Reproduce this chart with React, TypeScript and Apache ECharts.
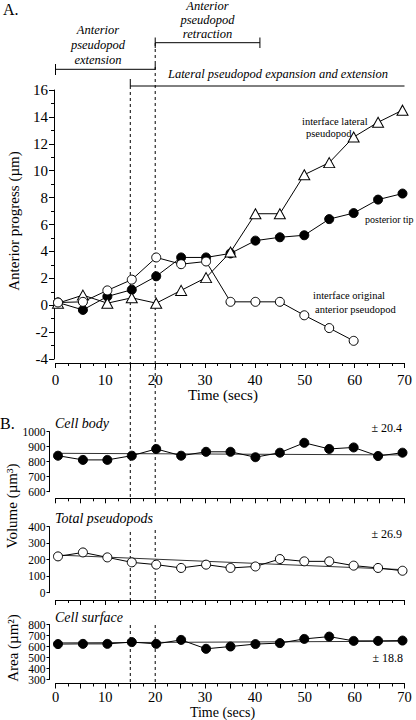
import React, { useEffect, useRef } from 'react';
import * as echarts from 'echarts';

// ---------- data ----------
const TIMES = [0.5, 5.5, 10.4, 15.3, 20.2, 25.2, 30.2, 35.1, 40.1, 45.0, 49.9, 54.9, 59.8, 64.7, 69.6];
const POSTERIOR_TIP = [0.2, -0.35, 0.65, 1.15, 2.15, 3.55, 3.55, 3.85, 4.8, 5.05, 5.2, 6.4, 6.85, 7.85, 8.3];
const LATERAL_INTERFACE = [0.15, 0.75, 0.15, 0.55, 0.15, 1.1, 2.05, 3.95, 6.8, 6.8, 9.7, 10.6, 12.5, 13.6, 14.5];
const ORIGINAL_INTERFACE = [0.2, 0.25, 1.1, 1.9, 3.55, 3.05, 3.25, 0.25, 0.25, 0.25, -0.75, -1.7, -2.65];
const CELL_BODY = [840, 812, 812, 840, 885, 840, 866, 866, 830, 860, 926, 885, 895, 838, 860];
const CELL_BODY_TREND = [856, 845];
const TOTAL_PSEUDOPODS = [220, 244, 214, 184, 170, 150, 170, 150, 159, 204, 190, 190, 164, 150, 133];
const PSEUDOPODS_TREND = [228, 140];
const CELL_SURFACE = [622, 624, 624, 640, 624, 660, 579, 600, 622, 631, 669, 690, 651, 651, 654];
const SURFACE_TREND = [633, 648];
const SURFACE_TICK_LABELS = [300, 400, 500, 600, 700, 800];
const PHASE_MARKS = [15, 20];
const RETRACTION_END = 41;
const X_TICK_LABELS = [0, 10, 20, 30, 40, 50, 60, 70];
const SD_LABELS = ['± 20.4', '± 26.9', '± 18.8'];

const FONT = 'Liberation Serif';

const pairs = (ys: number[]) => ys.map((v, i) => [TIMES[i], v]);
const trend = (tr: number[]) => [[TIMES[0], tr[0]], [TIMES[TIMES.length - 1], tr[1]]];

const GRIDS = [
  { left: 55.5, width: 349, top: 90, height: 269 },
  { left: 55.5, width: 349, top: 431.7, height: 60 },
  { left: 55.5, width: 349, top: 526.7, height: 66 },
  { left: 55.5, width: 349, top: 624.5, height: 55 },
];
const X_OFFSETS = [4, 6.6, 7.3, 4];
const SMALL_Y_OFFSET = 6;

function xAxis(gi: number, showLabels: boolean) {
  return {
    type: 'value',
    gridIndex: gi,
    min: 0,
    max: 70,
    interval: 5,
    offset: X_OFFSETS[gi],
    axisLine: { show: true, onZero: false, lineStyle: { color: '#000', width: 1 } },
    axisTick: { show: true, inside: false, length: 5, lineStyle: { color: '#000', width: 1 } },
    minorTick: { show: true, splitNumber: 2, length: 3, lineStyle: { color: '#000', width: 1 } },
    splitLine: { show: false },
    minorSplitLine: { show: false },
    axisLabel: {
      show: showLabels,
      showMinLabel: true,
      showMaxLabel: true,
      formatter: (v: number) => (X_TICK_LABELS.includes(v) ? String(v) : ''),
      fontSize: gi === 0 ? 15 : 14.5,
      fontFamily: FONT,
      color: '#000',
      margin: gi === 0 ? 9 : 5.5,
    },
  };
}

function yAxis(gi: number, min: number, max: number, interval: number, big: boolean, labels = true) {
  return {
    type: 'value',
    gridIndex: gi,
    min,
    max,
    interval,
    offset: big ? 1.5 : SMALL_Y_OFFSET,
    axisLine: { show: true, onZero: false, lineStyle: { color: '#000', width: 1 } },
    axisTick: { show: true, inside: false, length: big ? 5 : 3, lineStyle: { color: '#000', width: 1 } },
    minorTick: { show: big, splitNumber: 2, length: 3, lineStyle: { color: '#000', width: 1 } },
    splitLine: { show: false },
    minorSplitLine: { show: false },
    axisLabel: {
      show: labels,
      showMinLabel: true,
      showMaxLabel: true,
      formatter: (v: number) => String(v),
      fontSize: big ? 15 : 11.5,
      fontFamily: FONT,
      color: '#000',
      margin: big ? 6 : 4,
    },
  };
}

const lineBase = {
  type: 'line',
  showAllSymbol: true,
  lineStyle: { color: '#000', width: 1 },
  emphasis: { disabled: true },
};
const filled = { color: '#000', borderColor: '#000', borderWidth: 1 };
const open = { color: '#fff', borderColor: '#000', borderWidth: 1 };

function txt(x: number, y: number, text: string, size: number, opts: any = {}) {
  return {
    type: 'text',
    x,
    y,
    rotation: opts.rotation || 0,
    silent: true,
    style: {
      text,
      fontSize: size,
      fontFamily: FONT,
      fontStyle: opts.italic ? 'italic' : 'normal',
      fill: '#000',
      textAlign: opts.align || 'center',
      align: opts.align || 'center',
      textVerticalAlign: 'middle',
      verticalAlign: 'middle',
    },
  };
}

function seg(x1: number, y1: number, x2: number, y2: number, dashed = false) {
  return {
    type: 'line',
    silent: true,
    shape: { x1, y1, x2, y2 },
    style: { stroke: '#000', lineWidth: 1, lineDash: dashed ? [3, 3] : null },
  };
}

export default function App() {
  const ref = useRef<HTMLDivElement>(null);
  useEffect(() => {
    if (!ref.current) return;
    const chart = echarts.init(ref.current, null, { renderer: 'svg' });
    chart.setOption({
      animation: false,
      backgroundColor: '#fff',
      textStyle: { fontFamily: FONT },
      grid: GRIDS.map((g) => ({ ...g, containLabel: false })),
      xAxis: [xAxis(0, true), xAxis(1, false), xAxis(2, false), xAxis(3, true)],
      yAxis: [
        yAxis(0, -4, 16, 2, true),
        yAxis(1, 600, 1000, 100, false),
        yAxis(2, 0, 400, 100, false),
        yAxis(3, 300, 800, 100, false, false),
      ],
      series: [
        { ...lineBase, name: 'posterior tip', xAxisIndex: 0, yAxisIndex: 0, symbol: 'circle', symbolSize: 9, itemStyle: filled, data: pairs(POSTERIOR_TIP), z: 2 },
        { ...lineBase, name: 'interface lateral pseudopod', xAxisIndex: 0, yAxisIndex: 0, symbol: 'triangle', symbolSize: [11, 10], itemStyle: open, data: pairs(LATERAL_INTERFACE), z: 3 },
        { ...lineBase, name: 'interface original anterior pseudopod', xAxisIndex: 0, yAxisIndex: 0, symbol: 'circle', symbolSize: 9, itemStyle: open, data: pairs(ORIGINAL_INTERFACE), z: 4 },
        { ...lineBase, name: 'cell body trend', xAxisIndex: 1, yAxisIndex: 1, symbol: 'none', lineStyle: { color: '#333', width: 1 }, data: trend(CELL_BODY_TREND), z: 1 },
        { ...lineBase, name: 'cell body', xAxisIndex: 1, yAxisIndex: 1, symbol: 'circle', symbolSize: 9, itemStyle: filled, data: pairs(CELL_BODY), z: 2 },
        { ...lineBase, name: 'pseudopods trend', xAxisIndex: 2, yAxisIndex: 2, symbol: 'none', lineStyle: { color: '#333', width: 1 }, data: trend(PSEUDOPODS_TREND), z: 1 },
        { ...lineBase, name: 'total pseudopods', xAxisIndex: 2, yAxisIndex: 2, symbol: 'circle', symbolSize: 9, itemStyle: open, data: pairs(TOTAL_PSEUDOPODS), z: 2 },
        { ...lineBase, name: 'surface trend', xAxisIndex: 3, yAxisIndex: 3, symbol: 'none', lineStyle: { color: '#333', width: 1 }, data: trend(SURFACE_TREND), z: 1 },
        { ...lineBase, name: 'cell surface', xAxisIndex: 3, yAxisIndex: 3, symbol: 'circle', symbolSize: 9, itemStyle: filled, data: pairs(CELL_SURFACE), z: 2 },
      ],
    });

    const px = (t: number) => chart.convertToPixel({ xAxisIndex: 0 }, t) as number;
    const x15 = px(PHASE_MARKS[0]);
    const x20 = px(PHASE_MARKS[1]);
    const x0 = px(0);
    const x70 = px(70);
    const xRet = px(RETRACTION_END);
    const surfaceLabelX = GRIDS[3].left - SMALL_Y_OFFSET - 4;

    const graphics: any[] = [
      // panel letters
      txt(3, 9, 'A.', 16, { align: 'left' }),
      txt(0, 423, 'B.', 16, { align: 'left' }),
      // phase brackets
      seg(x0, 69.3, x20, 69.3),
      seg(x0, 64, x0, 75),
      seg(x20, 64, x20, 69.3),
      seg(x20, 42.7, xRet, 42.7),
      seg(x20, 37.5, x20, 48),
      seg(xRet, 37.5, xRet, 48),
      seg(x15, 86, x70, 86),
      seg(x15, 79, x15, 86),
      // dashed phase marks
      seg(x15, 86, x15, 498, true),
      seg(x20, 43, x20, 498, true),
      seg(x15, 532, x15, 600, true),
      seg(x20, 530, x20, 600, true),
      seg(x15, 625, x15, 683, true),
      seg(x20, 625, x20, 683, true),
      // phase texts
      txt(98, 30, 'Anterior', 12.5, { italic: true }),
      txt(98, 45, 'pseudopod', 12.5, { italic: true }),
      txt(98, 60, 'extension', 12.5, { italic: true }),
      txt(207.5, 6, 'Anterior', 12.5, { italic: true }),
      txt(207.5, 20, 'pseudopod', 12.5, { italic: true }),
      txt(207.5, 33.5, 'retraction', 12.5, { italic: true }),
      txt(278, 74, 'Lateral pseudopod expansion and extension', 12.5, { italic: true }),
      // series annotations
      txt(302, 121, 'interface lateral', 10.5, { align: 'left' }),
      txt(306, 133, 'pseudopod', 10.5, { align: 'left' }),
      txt(365, 219, 'posterior tip', 10, { align: 'left' }),
      txt(313, 295, 'interface original', 10.5, { align: 'left' }),
      txt(315, 309, 'anterior pseudopod', 10.5, { align: 'left' }),
      // axis titles
      txt(13.5, 221, 'Anterior progress (µm)', 15, { rotation: Math.PI / 2 }),
      txt(223, 395, 'Time (secs)', 15),
      txt(12, 506, 'Volume (µm³)', 15, { rotation: Math.PI / 2 }),
      txt(13, 648, 'Area (µm²)', 15, { rotation: Math.PI / 2 }),
      txt(222.5, 712.5, 'Time (secs)', 14),
      // sub-panel titles
      txt(55, 423, 'Cell body', 14, { italic: true, align: 'left' }),
      txt(55, 518, 'Total pseudopods', 14, { italic: true, align: 'left' }),
      txt(55, 617, 'Cell surface', 14, { italic: true, align: 'left' }),
      // SD labels
      txt(402, 428, SD_LABELS[0], 12, { align: 'right' }),
      txt(402, 534, SD_LABELS[1], 12, { align: 'right' }),
      txt(403, 658, SD_LABELS[2], 12, { align: 'right' }),
      // cell surface y tick labels (tightly packed, drawn through the axis scale)
      ...SURFACE_TICK_LABELS.map((v) =>
        txt(surfaceLabelX, chart.convertToPixel({ yAxisIndex: 3 }, v) as number, String(v), 11.5, { align: 'right' })
      ),
    ];
    chart.setOption({ graphic: graphics });
    return () => chart.dispose();
  }, []);
  return (
    <div
      ref={ref}
      style={{ position: 'absolute', left: 0, top: 0, width: 416, height: 720, background: '#fff' }}
    />
  );
}
